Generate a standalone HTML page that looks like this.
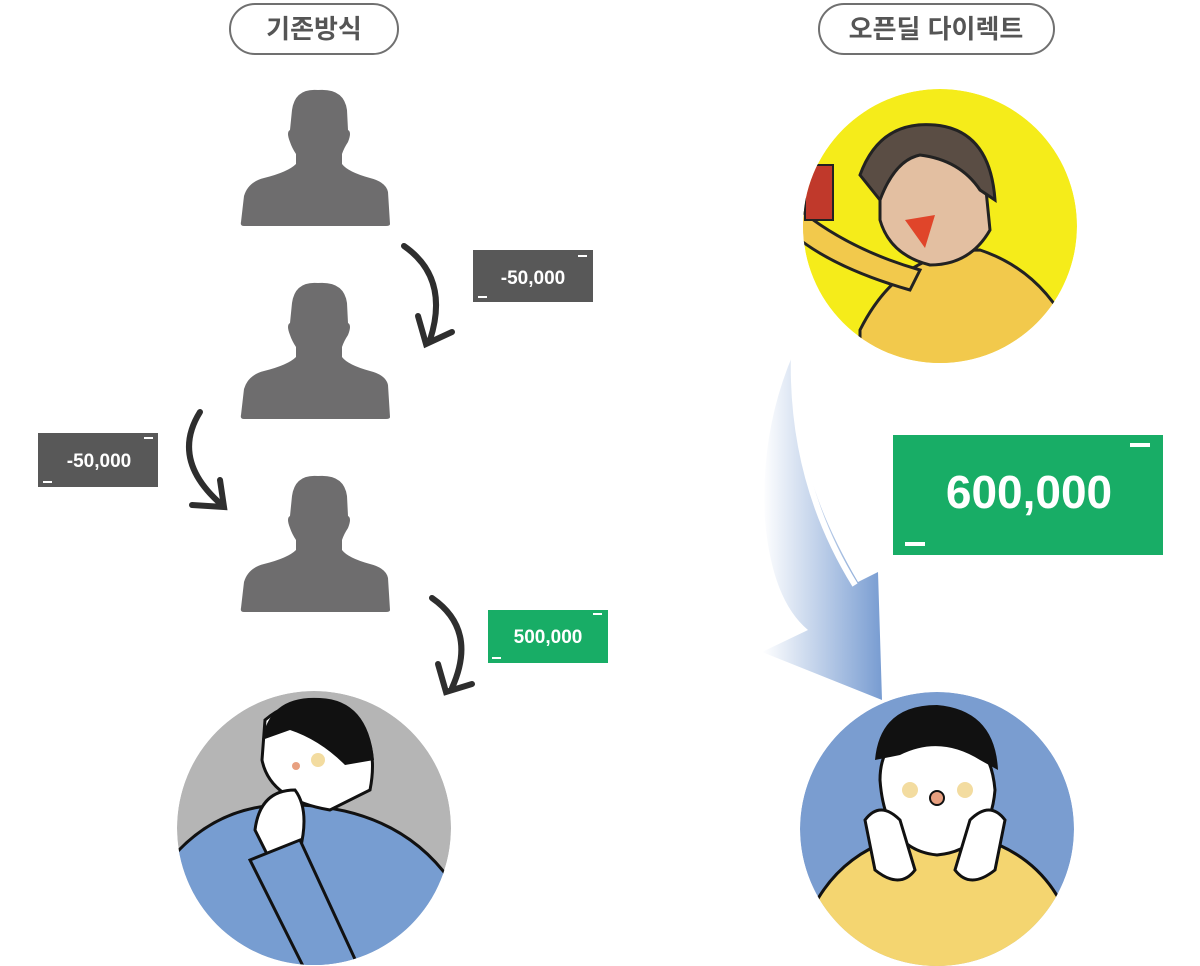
<!DOCTYPE html>
<html><head><meta charset="utf-8"><style>
html,body{margin:0;padding:0;background:#fff;width:1200px;height:966px;overflow:hidden}
svg{display:block}
text{font-family:"Liberation Sans","Noto Sans CJK KR",sans-serif}
</style></head><body>
<svg width="1200" height="966" viewBox="0 0 1200 966" xmlns="http://www.w3.org/2000/svg">
<defs>
<linearGradient id="bg" x1="0" y1="0" x2="1" y2="0">
<stop offset="0" stop-color="#fff"/><stop offset="1" stop-color="#7197cf"/></linearGradient>
<clipPath id="c1"><circle cx="314" cy="828" r="137"/></clipPath>
<clipPath id="c2"><circle cx="940" cy="226" r="137"/></clipPath>
<clipPath id="c3"><circle cx="937" cy="829" r="137"/></clipPath>
<g id="p"><path d="M52 22 Q55 0 78 2 Q104 0 107 22 L108 42 Q112 44 108 54 Q104 60 102 66 L102 76 Q108 84 130 90 Q146 94 148 104 L150 136 Q150 138 146 138 L4 138 Q0 138 1 134 L4 108 Q8 94 24 90 Q48 84 56 76 L56 66 Q52 60 50 54 Q46 44 50 42 Z" fill="#6e6d6e"/></g>
</defs>
<!-- pills -->
<rect x="230" y="4" width="168" height="50" rx="25" fill="#fff" stroke="#707070" stroke-width="2"/>
<text x="314" y="38" text-anchor="middle" font-size="26" font-weight="bold" fill="#555">기존방식</text>
<rect x="819" y="4" width="235" height="50" rx="25" fill="#fff" stroke="#707070" stroke-width="2"/>
<text x="936" y="38" text-anchor="middle" font-size="26" font-weight="bold" fill="#555">오픈딜 다이렉트</text>
<!-- people -->
<use href="#p" x="240" y="88"/>
<use href="#p" x="240" y="281"/>
<use href="#p" x="240" y="474"/>
<!-- dark arrows -->
<g fill="none" stroke="#2e2e2e" stroke-width="6" stroke-linecap="round">
<path d="M404 246 Q450 278 430 340"/><path d="M418 316 L426 344 L452 332"/>
<path d="M200 412 Q170 460 222 505"/><path d="M192 505 L224 507 L220 480"/>
<path d="M432 598 Q478 630 452 688"/><path d="M438 664 L446 692 L472 684"/>
</g>
<!-- boxes -->
<rect x="473" y="250" width="120" height="52" fill="#585858"/>
<text x="533" y="284" text-anchor="middle" font-size="19" font-weight="bold" fill="#fff">-50,000</text>
<rect x="578" y="255" width="9" height="2" fill="#fff"/><rect x="478" y="296" width="9" height="2" fill="#fff"/>
<rect x="38" y="433" width="120" height="54" fill="#585858"/>
<text x="99" y="467" text-anchor="middle" font-size="19" font-weight="bold" fill="#fff">-50,000</text>
<rect x="144" y="437" width="9" height="2" fill="#fff"/><rect x="43" y="481" width="9" height="2" fill="#fff"/>
<rect x="488" y="610" width="120" height="53" fill="#18ad66"/>
<text x="548" y="643" text-anchor="middle" font-size="19" font-weight="bold" fill="#fff">500,000</text>
<rect x="593" y="613" width="9" height="2" fill="#fff"/><rect x="492" y="657" width="9" height="2" fill="#fff"/>
<rect x="893" y="435" width="270" height="120" fill="#18ad66"/>
<text x="1029" y="508" text-anchor="middle" font-size="46" font-weight="bold" fill="#fff">600,000</text>
<rect x="1130" y="443" width="20" height="4" fill="#fff"/><rect x="905" y="542" width="20" height="4" fill="#fff"/>
<!-- blue arrow -->
<path d="M794 352 Q760 430 765 520 Q772 600 808 630 L762 652 L882 700 L878 572 L858 582 Q810 500 800 430 Z" fill="url(#bg)" opacity="0.95"/>
<path d="M794 352 Q790 480 855 585" fill="none" stroke="#fff" stroke-width="6"/>
<!-- left circle -->
<g clip-path="url(#c1)">
<circle cx="314" cy="828" r="137" fill="#b5b5b5"/>
<path d="M170 860 Q220 800 300 805 Q400 810 450 880 L450 980 L170 980 Z" fill="#779dd1" stroke="#111" stroke-width="3"/>
<path d="M265 720 Q300 690 350 710 Q380 740 370 790 L330 810 Q270 800 262 760 Z" fill="#fff" stroke="#111" stroke-width="3"/>
<path d="M262 740 Q270 695 320 698 Q368 700 374 760 L345 765 Q320 740 290 730 Z" fill="#111"/>
<circle cx="318" cy="760" r="7" fill="#f3dca0"/><circle cx="296" cy="766" r="4" fill="#e8a080"/>
<path d="M255 830 Q260 790 295 790 Q310 810 300 850 L270 860 Z" fill="#fff" stroke="#111" stroke-width="3"/>
<path d="M250 860 L300 840 L360 970 L310 980 Z" fill="#779dd1" stroke="#111" stroke-width="3"/>
</g>
<!-- yellow circle -->
<g clip-path="url(#c2)">
<circle cx="940" cy="226" r="137" fill="#f5ec1a"/>
<path d="M860 330 Q900 250 980 250 Q1040 270 1070 330 L1070 370 L860 370 Z" fill="#f2c94c" stroke="#222" stroke-width="3"/>
<path d="M800 210 Q850 250 920 270 L910 290 Q840 270 800 240 Z" fill="#f2c94c" stroke="#222" stroke-width="3"/>
<path d="M880 190 Q880 150 920 140 Q970 140 985 180 L990 230 Q970 265 930 265 Q890 255 880 220 Z" fill="#e3bfa1" stroke="#222" stroke-width="3"/>
<path d="M860 175 Q880 120 935 125 Q990 130 995 200 L980 190 Q960 160 920 155 Q895 160 880 200 Z" fill="#5a4d44" stroke="#222" stroke-width="3"/>
<path d="M905 220 L935 215 L925 248 Z" fill="#e0452a"/>
<rect x="805" y="165" width="28" height="55" fill="#c0392b" stroke="#222" stroke-width="2"/>
</g>
<!-- right circle -->
<g clip-path="url(#c3)">
<circle cx="937" cy="829" r="137" fill="#7a9dd0"/>
<path d="M800 940 Q830 840 937 830 Q1050 840 1075 940 L1075 980 L800 980 Z" fill="#f4d570" stroke="#111" stroke-width="3"/>
<path d="M880 780 Q880 730 935 725 Q990 730 995 790 Q990 850 937 855 Q885 850 880 780 Z" fill="#fff" stroke="#111" stroke-width="3"/>
<path d="M875 760 Q880 705 937 705 Q995 710 998 770 L980 760 Q940 735 900 755 Z" fill="#111"/>
<circle cx="910" cy="790" r="8" fill="#f3dca0"/><circle cx="965" cy="790" r="8" fill="#f3dca0"/>
<circle cx="937" cy="798" r="7" fill="#e8a080" stroke="#111" stroke-width="2"/>
<path d="M865 820 Q880 800 900 820 L915 870 Q900 890 875 870 Z" fill="#fff" stroke="#111" stroke-width="3"/>
<path d="M1005 820 Q990 800 970 820 L955 870 Q970 890 995 870 Z" fill="#fff" stroke="#111" stroke-width="3"/>
</g>
</svg>
</body></html>
